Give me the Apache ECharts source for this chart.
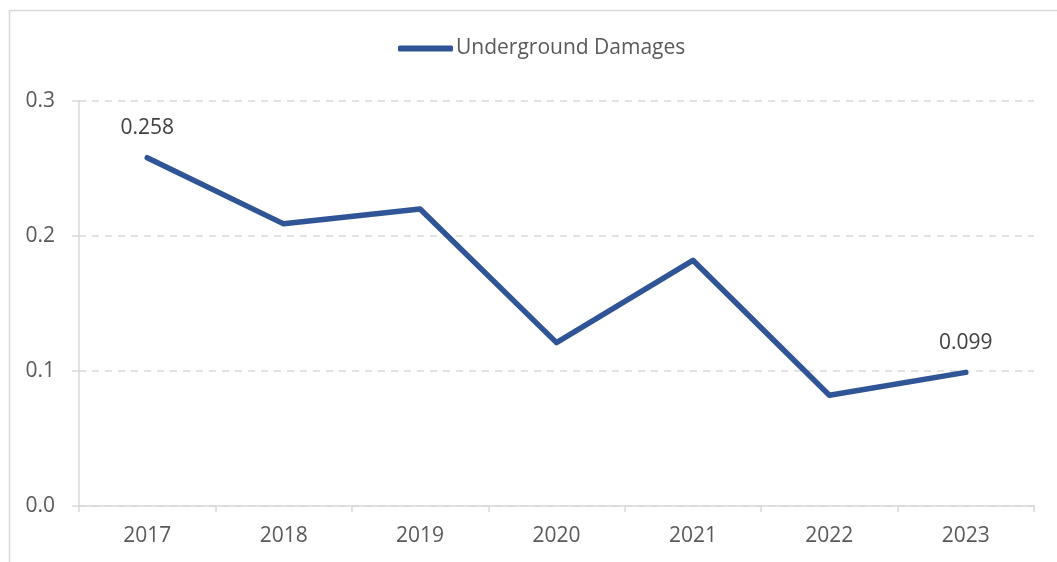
<!DOCTYPE html>
<html><head><meta charset="utf-8">
<script src="https://cdn.jsdelivr.net/npm/echarts@6/dist/echarts.min.js"></script>
<style>html,body{margin:0;padding:0;background:#fff}#c{width:1057px;height:562px}</style>
</head><body><div id="c"></div>
<script>
const categories = ['2017','2018','2019','2020','2021','2022','2023'];
const seriesName = 'Underground Damages';
const values = [0.258, 0.209, 0.220, 0.121, 0.182, 0.082, 0.099];
const labeledIdx = [0, 6];
const yTicks = [0, 0.1, 0.2, 0.3];

const chart = echarts.init(document.getElementById('c'), null, {renderer:'canvas'});
const font = 'Open Sans, Liberation Sans, sans-serif';
chart.setOption({
  animation:false,
  backgroundColor:'#fff',
  graphic:[{type:'rect',shape:{x:9.5,y:10.5,width:1100,height:600},style:{fill:'none',stroke:'#d9d9d9',lineWidth:1.5},silent:true,z:-1}],
  legend:{
    data:[{name:seriesName,icon:'roundRect'}],
    left:398, top:38, padding:0, itemWidth:55, itemHeight:6, itemGap:4,
    textStyle:{fontFamily:font,fontSize:21,color:'#595959',padding:[0,0,0,-2]}
  },
  grid:{left:79,right:23,top:101,bottom:56,containLabel:false},
  xAxis:{
    type:'category', data:categories, boundaryGap:true,
    axisLine:{lineStyle:{color:'#d9d9d9',width:1.5}},
    axisTick:{show:true,length:6,lineStyle:{color:'#d9d9d9',width:1.5}},
    axisLabel:{fontFamily:font,fontSize:21,color:'#595959',margin:20}
  },
  yAxis:{
    type:'value', min:yTicks[0], max:yTicks[yTicks.length-1], interval:0.1,
    axisLine:{show:true,lineStyle:{color:'#d9d9d9',width:1.5}},
    axisTick:{show:true,length:7,lineStyle:{color:'#d9d9d9',width:1.5}},
    axisLabel:{fontFamily:font,fontSize:21,color:'#595959',margin:24,
      formatter:v=>v.toFixed(1)},
    splitLine:{show:true,lineStyle:{color:'#d9d9d9',width:1.5,type:[7,6]}}
  },
  series:[{
    name:seriesName, type:'line',
    data:values.map((v,i)=>({value:v,label:{show:labeledIdx.includes(i)}})),
    symbol:'circle', symbolSize:0.1, showSymbol:true,
    lineStyle:{color:'#2f5597',width:5.5,cap:'round',join:'round'},
    itemStyle:{color:'#2f5597'},
    label:{show:false,position:'top',distance:19,fontFamily:font,fontSize:21,color:'#404040',formatter:p=>p.value.toFixed(3)}
  }]
});
</script></body></html>
